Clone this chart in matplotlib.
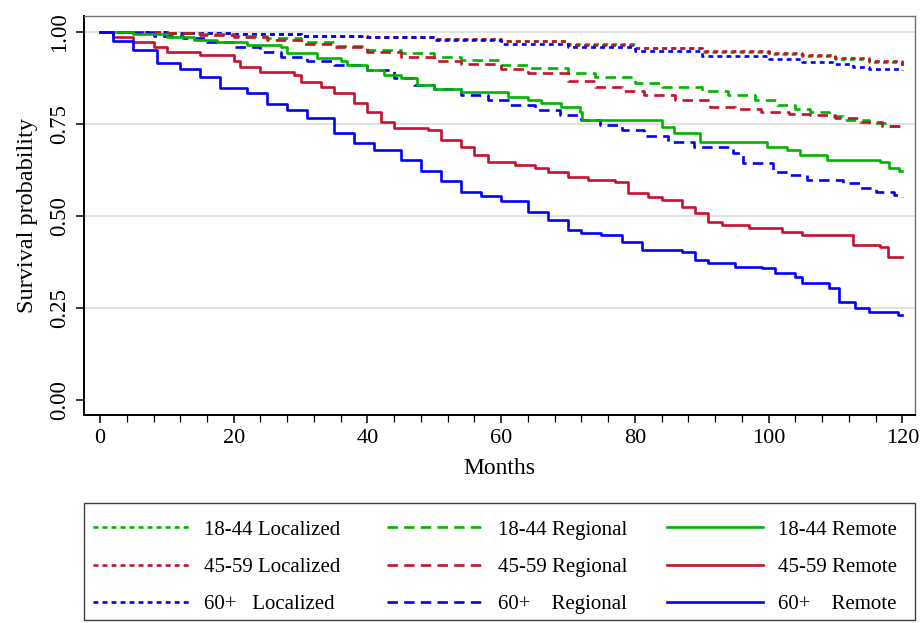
import numpy as np
import matplotlib
matplotlib.use('Agg')
import matplotlib.pyplot as plt
from matplotlib.patches import Rectangle

#######################################################
# Kaplan-Meier step curves (months, survival)
Loc_1844_m = [0, 10, 20, 30, 40, 50, 60, 70, 80, 90, 100, 105, 110, 115, 120]
Loc_1844_s = [1.0, 0.998, 0.995, 0.99, 0.986, 0.98, 0.975, 0.966, 0.955, 0.946, 0.94, 0.935, 0.926, 0.918, 0.91]

Loc_4559_m = [0, 10, 20, 30, 40, 50, 60, 70, 80, 90, 100, 105, 110, 115, 120]
Loc_4559_s = [1.0, 0.998, 0.995, 0.99, 0.987, 0.981, 0.974, 0.965, 0.956, 0.949, 0.942, 0.936, 0.928, 0.92, 0.908]

Loc_60_m = [0, 10, 20, 30, 40, 50, 60, 70, 80, 90, 100, 105, 110, 112.7, 115, 120]
Loc_60_s = [1.0, 0.998, 0.994, 0.989, 0.985, 0.977, 0.968, 0.958, 0.948, 0.935, 0.925, 0.918, 0.912, 0.905, 0.9, 0.897]

Reg_1844_m = [0, 10, 15, 20, 25, 30, 35, 40, 45, 50, 54, 60, 64, 70, 74, 80, 84, 90, 94, 98,
              101.3, 104, 106.2, 109, 111.2, 115, 118, 120]
Reg_1844_s = [1.0, 0.998, 0.995, 0.99, 0.982, 0.973, 0.962, 0.951, 0.942, 0.932, 0.924, 0.91, 0.902,
              0.888, 0.878, 0.862, 0.851, 0.838, 0.829, 0.815, 0.802, 0.79, 0.783, 0.772, 0.761, 0.752,
              0.745, 0.742]

Reg_4559_m = [0, 5, 10, 15, 20, 25, 30, 35, 40, 45, 50, 54, 60, 64, 70, 74, 78, 81.3, 86, 91.3,
              95, 98.8, 103, 106.2, 110, 113.7, 117, 120]
Reg_4559_s = [1.0, 0.999, 0.997, 0.992, 0.985, 0.978, 0.968, 0.96, 0.946, 0.932, 0.922, 0.913, 0.898,
              0.889, 0.866, 0.851, 0.838, 0.829, 0.815, 0.797, 0.789, 0.783, 0.778, 0.774, 0.765,
              0.756, 0.745, 0.734]

Reg_60_m = [0, 5, 8, 12.4, 16, 20, 24, 27, 31, 35, 40, 44, 47, 50, 54, 58, 61.3, 65, 68.8, 72,
            74.8, 78, 81.3, 85, 88.8, 94.7, 96.2, 100.7, 103, 105.8, 111.2, 113.7, 116, 118.7, 120]
Reg_60_s = [1.0, 0.997, 0.99, 0.983, 0.972, 0.96, 0.945, 0.932, 0.92, 0.91, 0.897, 0.875, 0.856,
            0.845, 0.829, 0.815, 0.8, 0.787, 0.774, 0.76, 0.747, 0.732, 0.716, 0.70, 0.688, 0.671,
            0.644, 0.62, 0.61, 0.598, 0.59, 0.576, 0.566, 0.557, 0.552]

Rem_1844_m = [0, 5, 10, 14, 17.5, 22, 27, 28, 32.5, 36, 37, 40, 42.4, 45, 47.4, 50, 54, 61, 64, 66,
              69, 71.8, 72.1, 82.7, 84, 85.8, 89.8, 99.8, 102.8, 104.7, 108.8, 116.7, 118, 119.5, 120]
Rem_1844_s = [1.0, 0.995, 0.985, 0.978, 0.973, 0.965, 0.96, 0.942, 0.928, 0.92, 0.91, 0.897, 0.883,
              0.875, 0.856, 0.845, 0.837, 0.823, 0.815, 0.807, 0.795, 0.783, 0.761, 0.761, 0.742,
              0.725, 0.701, 0.688, 0.679, 0.666, 0.652, 0.647, 0.63, 0.622, 0.622]

Rem_4559_m = [0, 2, 5, 8, 10, 15, 20, 21, 24, 29, 30, 33, 35, 38, 40, 42, 44, 49, 51, 54, 56, 58,
              62, 65, 67, 70, 73, 77, 79, 82, 84, 87, 89, 91, 93, 97, 102, 105, 112.7, 116.7, 117.9, 120]
Rem_4559_s = [1.0, 0.985, 0.973, 0.96, 0.946, 0.938, 0.92, 0.905, 0.89, 0.883, 0.864, 0.85, 0.834,
              0.807, 0.783, 0.756, 0.739, 0.734, 0.707, 0.688, 0.666, 0.647, 0.639, 0.63, 0.62, 0.606,
              0.598, 0.592, 0.562, 0.552, 0.543, 0.525, 0.508, 0.484, 0.476, 0.467, 0.457, 0.448,
              0.421, 0.416, 0.389, 0.389]

Rem_60_m = [0, 2, 5, 8.5, 12, 15, 18, 22, 25, 28, 31, 35, 38, 41, 45, 48, 51, 54, 57, 60, 64, 67,
            70, 72, 75, 78, 81, 87, 89, 91, 95, 99, 101, 104, 105, 109, 110.5, 113, 115, 119.3, 120]
Rem_60_s = [1.0, 0.975, 0.95, 0.916, 0.90, 0.878, 0.848, 0.835, 0.805, 0.788, 0.765, 0.725, 0.698,
            0.68, 0.652, 0.622, 0.595, 0.566, 0.555, 0.540, 0.511, 0.49, 0.462, 0.453, 0.448, 0.43,
            0.408, 0.402, 0.38, 0.372, 0.361, 0.358, 0.345, 0.335, 0.318, 0.304, 0.266, 0.25,
            0.239, 0.231, 0.231]

Labels = ['18-44 Localized', '45-59 Localized', '60+   Localized',
          '18-44 Regional', '45-59 Regional', '60+    Regional',
          '18-44 Remote', '45-59 Remote', '60+    Remote']
#######################################################

Green = '#00B400'
Red   = '#C8102E'
Blue  = '#0000FF'
Dotted = (0, (3.5, 3.0))
Dashed = (0, (7.5, 4.5))

plt.rcParams['font.family'] = ['Liberation Serif', 'DejaVu Serif']
plt.rcParams['lines.scale_dashes'] = False

Curves = [
    (Loc_1844_m, Loc_1844_s, Green, Dotted),
    (Loc_4559_m, Loc_4559_s, Red,   Dotted),
    (Loc_60_m,   Loc_60_s,   Blue,  Dotted),
    (Reg_1844_m, Reg_1844_s, Green, Dashed),
    (Reg_4559_m, Reg_4559_s, Red,   Dashed),
    (Reg_60_m,   Reg_60_s,   Blue,  Dashed),
    (Rem_1844_m, Rem_1844_s, Green, '-'),
    (Rem_4559_m, Rem_4559_s, Red,   '-'),
    (Rem_60_m,   Rem_60_s,   Blue,  '-'),
]

W, H = 921, 623
fig = plt.figure(figsize=(W/100, H/100), dpi=100)
ax = fig.add_axes([84/W, 1 - 415/H, (915 - 84)/W, (415 - 16)/H])

for yy in [0.25, 0.50, 0.75, 1.00]:
    ax.axhline(yy, color='#dcdcdc', lw=1.2, zorder=0)

Handles = []
for (m, s, c, ls), lab in zip(Curves, Labels):
    h, = ax.plot(m, s, drawstyle='steps-post', color=c, linestyle=ls, lw=1.9, label=lab)
    Handles.append(h)

ax.set_xlim(-2.4, 121.9)
ax.set_ylim(-0.041, 1.043)
ax.set_xticks(np.arange(0, 121, 20))
ax.set_xticks(np.arange(0, 121, 4), minor=True)
ax.set_yticks([0, 0.25, 0.5, 0.75, 1.0])
ax.set_yticklabels(['0.00', '0.25', '0.50', '0.75', '1.00'], rotation=90, va='center')
ax.tick_params(axis='x', which='major', labelsize=16, length=6, width=1.1, direction='out', pad=4)
ax.tick_params(axis='y', which='major', labelsize=16.5, length=6, width=1.1, direction='out', pad=4)
ax.tick_params(axis='x', which='minor', length=5, width=0.9, direction='out')

for side in ['left', 'bottom']:
    ax.spines[side].set_linewidth(1.4)
    ax.spines[side].set_color('black')
for side in ['top', 'right']:
    ax.spines[side].set_linewidth(1.0)
    ax.spines[side].set_color('#707070')

ax.set_xlabel('Months', fontsize=17, labelpad=7)
ax.set_ylabel('Survival probability', fontsize=17.5, labelpad=8)

# legend: frame plus three separately placed columns
fig.patches.append(Rectangle((84/W, 1 - 620/H), (915 - 84)/W, (620 - 503)/H,
                             transform=fig.transFigure, fill=False,
                             edgecolor='#404040', lw=1.0))
Col_X = [93, 387, 667]
for i, x0 in enumerate(Col_X):
    fig.legend(handles=Handles[3*i:3*i + 3], loc='upper left',
               bbox_to_anchor=(x0/W, 1 - 520/H), frameon=False, fontsize=15,
               handlelength=4.6, handletextpad=0.75, labelspacing=0.85,
               borderpad=0.0, borderaxespad=0.0)

fig.savefig('out.png', dpi=100)
